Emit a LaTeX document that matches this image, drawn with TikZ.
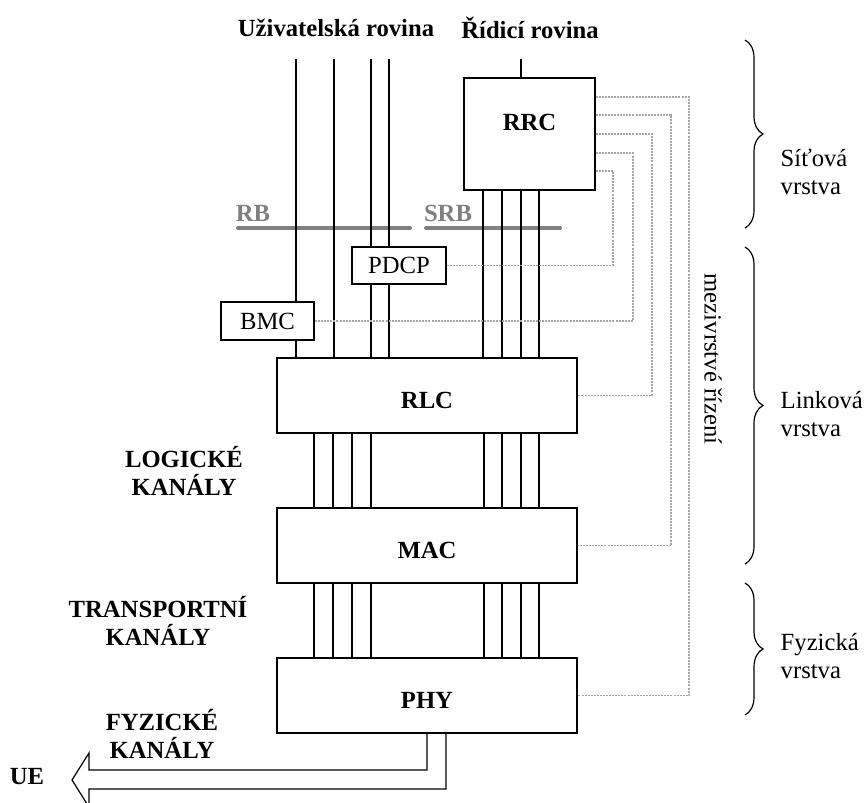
\documentclass[tikz,border=0pt]{standalone}
\usepackage{fontspec}
\setmainfont{Liberation Serif}
\usepackage{tikz}
\usetikzlibrary{decorations.pathreplacing}
\definecolor{barclr}{RGB}{128,128,128}
\definecolor{ctrlclr}{RGB}{165,165,165}
\newcommand{\lblfont}{\fontsize{18.5}{21.5}\selectfont}

\begin{document}
\begin{tikzpicture}[x=0.75pt, y=-0.75pt,
  box/.style={draw, line width=1pt, inner sep=0pt, font=\lblfont},
  layerbox/.style={box, font=\lblfont\bfseries, minimum width=225pt, minimum height=56.25pt, text height=19pt, text depth=0pt},
  chan/.style={line width=0.9pt},
  ctrl/.style={ctrlclr, line width=0.8pt, dash pattern=on 1.5pt off 0.8pt},
  bar/.style={barclr, line width=3pt, line cap=round},
  lbl/.style={font=\lblfont\bfseries, align=center},
  layer/.style={decorate, decoration={brace, amplitude=13.5pt}, line width=0.9pt}]
  \useasboundingbox (0,0) rectangle (865,803);
  % planes
  \node[lbl] (uplane) at (336,28) {Uživatelská rovina};
  \node[lbl] (cplane) at (530,28) {Řídicí rovina};
  % protocol blocks
  \node[box, font=\lblfont\bfseries, minimum width=98.25pt, minimum height=84pt, text depth=18pt] (RRC) at (529.5,134) {RRC};
  \node[box, minimum width=70.5pt, minimum height=27.75pt] (PDCP) at (399,265.5) {PDCP};
  \node[box, minimum width=69.75pt, minimum height=28.5pt] (BMC) at (267.5,321) {BMC};
  \node[layerbox] (RLC) at (427,395.5) {RLC};
  \node[layerbox] (MAC) at (427,545.5) {MAC};
  \node[layerbox] (PHY) at (427,695.5) {PHY};
  % radio bearers
  \draw[bar] (238,228) -- (410,228);
  \draw[bar] (426,228) -- (560,228);
  \node[lbl, barclr] (RB) at (253,213) {RB};
  \node[lbl, barclr] (SRB) at (448,213) {SRB};
  % user plane channels
  \foreach \n/\x in {1/296,2/334,3/371,4/389} \coordinate (u\n) at (\x,59);
  \coordinate (c0) at (521,59);
  \draw[chan] (u1) -- (u1 |- BMC.north) (u1 |- BMC.south) -- (u1 |- RLC.north);
  \draw[chan] (u2) -- (u2 |- RLC.north);
  \foreach \n in {3,4}
    \draw[chan] (u\n) -- (u\n |- PDCP.north) (u\n |- PDCP.south) -- (u\n |- RLC.north);
  % control plane channels
  \draw[chan] (c0) -- (c0 |- RRC.north);
  \foreach \x in {483,502,521,539}
    \draw[chan] (RRC.south -| \x,0) -- (RLC.north -| \x,0);
  % logical and transport channels
  \foreach \x in {314,333,352,371,484,502,521,539} {
    \draw[chan] (RLC.south -| \x,0) -- (MAC.north -| \x,0);
    \draw[chan] (MAC.south -| \x,0) -- (PHY.north -| \x,0);
  }
  % physical channels to UE
  \coordinate (ue) at (72,780);
  \draw[chan] (PHY.south -| 427,0) |- (89,770) -- (89,753) -- (ue) -- (89,807) -- (89,789) -| (PHY.south -| 446,0);
  \node[lbl] (UE) at (27,777) {UE};
  \node[lbl] (logch) at (184,471) {LOGICKÉ\\KANÁLY};
  \node[lbl] (trch) at (158,621) {TRANSPORTNÍ\\KANÁLY};
  \node[lbl] (phch) at (162,734) {FYZICKÉ\\KANÁLY};
  % cross-layer control
  \foreach \y/\x/\t in {97/689/PHY,115/671/MAC,134/652/RLC,153/633/BMC,171/613/PDCP}
    \draw[ctrl] (RRC.east |- 0,\y) -| (\t.east -| \x,0) -- (\t.east);
  \node[font=\lblfont, rotate=-90] (ctrl) at (713,359) {mezivrstvé řízení};
  % layers
  \draw[layer] (745,40) -- (745,228);
  \draw[layer] (745,247) -- (745,564);
  \draw[layer] (745,583) -- (745,715);
  \node[font=\lblfont, align=left, anchor=west] (L3) at (776,172) {Síťová\\vrstva};
  \node[font=\lblfont, align=left, anchor=west] (L2) at (776,414) {Linková\\vrstva};
  \node[font=\lblfont, align=left, anchor=west] (L1) at (776,656) {Fyzická\\vrstva};
\end{tikzpicture}
\end{document}
